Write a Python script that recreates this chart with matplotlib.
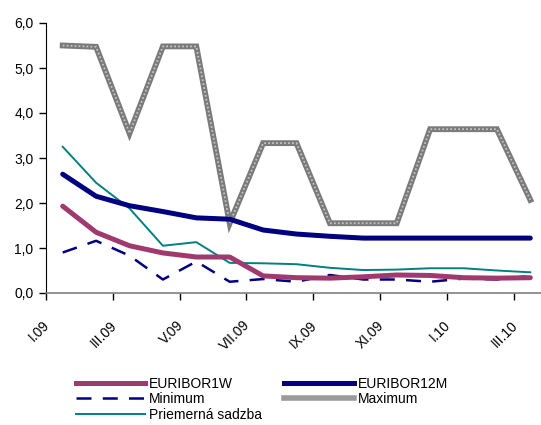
import numpy as np
import matplotlib
matplotlib.use("Agg")
import matplotlib.pyplot as plt
import matplotlib.transforms as mtransforms
from matplotlib.lines import Line2D

plt.rcParams["font.family"] = ["Liberation Sans", "DejaVu Sans"]

# -----------------------------
# Data (monthly, I.09 .. III.10)
# -----------------------------
months = ["I.09", "II.09", "III.09", "IV.09", "V.09", "VI.09", "VII.09", "VIII.09",
          "IX.09", "X.09", "XI.09", "XII.09", "I.10", "II.10", "III.10"]

euribor_1w = [1.93, 1.35, 1.05, 0.89, 0.80, 0.80, 0.38, 0.34, 0.33, 0.36, 0.40, 0.39, 0.34, 0.33, 0.34]
euribor_12m = [2.64, 2.15, 1.94, 1.81, 1.67, 1.64, 1.40, 1.31, 1.26, 1.22, 1.22, 1.22, 1.22, 1.22, 1.22]
minimum = [0.90, 1.16, 0.83, 0.30, 0.70, 0.25, 0.31, 0.25, 0.40, 0.30, 0.30, 0.25, 0.32, 0.30, 0.38]
maximum = [5.50, 5.47, 3.55, 5.48, 5.48, 1.55, 3.33, 3.33, 1.55, 1.55, 1.55, 3.64, 3.64, 3.64, 2.07]
average = [3.25, 2.45, 1.88, 1.05, 1.13, 0.67, 0.66, 0.64, 0.56, 0.51, 0.52, 0.55, 0.55, 0.50, 0.46]

y_ticks = [0, 1, 2, 3, 4, 5, 6]

# -----------------------------
# Chart
# -----------------------------
fig = plt.figure(figsize=(5.41, 4.25), dpi=100)
ax = fig.add_axes([46 / 541, 1 - 293 / 425, (541 - 46) / 541, (293 - 23) / 425])

x = np.arange(len(months))

# Maximum: textured grey band
ax.plot(x, maximum, color="#7a7a7a", lw=4.2, solid_joinstyle="miter", zorder=2)
ax.plot(x, maximum, color="#c4c4c4", lw=1.3, ls=(0, (1, 1.2)), zorder=2.1)

ax.plot(x, average, color="#008080", lw=1.4, zorder=3)
ax.plot(x, minimum, color="#000080", lw=1.8, ls=(0, (6, 4.5)), zorder=3)
ax.plot(x, euribor_12m, color="#000080", lw=3.6, zorder=4,
        solid_capstyle="round", solid_joinstyle="round")
ax.plot(x, euribor_1w, color="#A03A6E", lw=3.6, zorder=5,
        solid_capstyle="round", solid_joinstyle="round")

ax.set_xlim(-0.5, (541 - 46) / 33.4 - 0.5)
ax.set_ylim(0, 6)

ax.set_yticks(y_ticks)
ax.set_yticklabels([f"{v:.1f}".replace(".", ",") for v in y_ticks], fontsize=10)

# tick marks between every two months, labels on the month
ax.set_xticks(np.arange(-0.5, len(months), 2))
ax.set_xticklabels([])
ax.set_xticks(x[::2], minor=True)
ax.set_xticklabels(months[::2], minor=True, rotation=45, ha="right",
                   va="top", rotation_mode="anchor", fontsize=10)
ax.tick_params(axis="x", which="minor", length=0, pad=18)
ax.tick_params(axis="x", which="major", length=5, width=1, color="black")
ax.tick_params(axis="y", length=5, width=1, pad=4)
shift = mtransforms.ScaledTranslation(-20 / 100, 0, fig.dpi_scale_trans)
for lbl in ax.get_xticklabels(minor=True):
    lbl.set_transform(lbl.get_transform() + shift)

for side in ["top", "right"]:
    ax.spines[side].set_visible(False)
ax.spines["left"].set_color("black")
ax.spines["bottom"].set_color("#808080")
ax.spines["bottom"].set_linewidth(1.2)

# -----------------------------
# Legend (row-major order like the original)
# -----------------------------
h_1w = Line2D([], [], color="#A03A6E", lw=3.6)
h_12m = Line2D([], [], color="#000080", lw=3.6)
h_min = Line2D([], [], color="#000080", lw=1.8, ls=(0, (6, 4.5)))
h_max = Line2D([], [], color="#9a9a9a", lw=4)
h_avg = Line2D([], [], color="#008080", lw=1.4)

fig.legend([h_1w, h_min, h_avg, h_12m, h_max],
           ["EURIBOR1W", "Minimum", "Priemerná sadzba", "EURIBOR12M", "Maximum"],
           ncol=2, loc="lower left", bbox_to_anchor=(70 / 541, -0.006),
           frameon=False, fontsize=10, handlelength=5.0, handletextpad=0.3,
           columnspacing=1.6, labelspacing=0.12, borderaxespad=0)

fig.savefig("out.png", dpi=100)
